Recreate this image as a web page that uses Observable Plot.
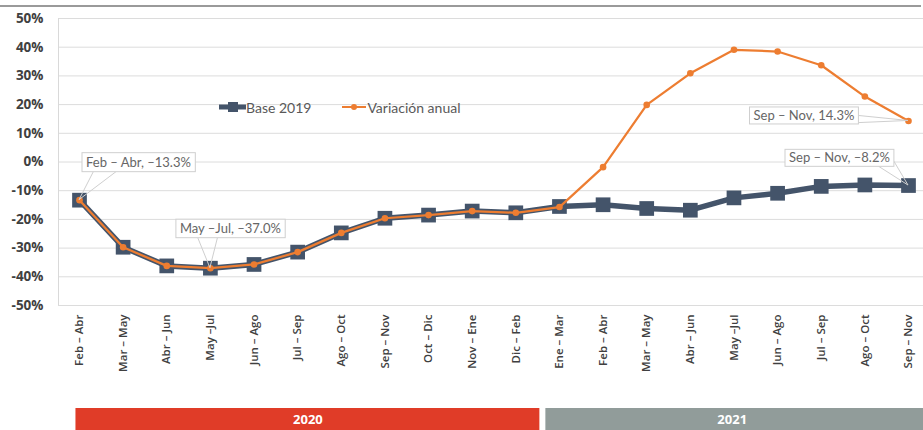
<!DOCTYPE html>
<html><head><meta charset="utf-8">
<script src="https://cdn.jsdelivr.net/npm/d3@7"></script>
<script src="https://cdn.jsdelivr.net/npm/@observablehq/plot@0.6"></script>
<style>
body{margin:0;background:#fff}
#wrap{position:relative;width:923px;height:430px;overflow:hidden;font-family:"Open Sans",sans-serif;background:#fff}
#topline{position:absolute;left:0;top:5px;width:921px;height:2px;background:#9a9a9a}
#main{position:absolute;left:0;top:0}
#years{position:absolute;left:0;top:408px}
#legend{position:absolute;left:219px;top:97px;height:20px;display:flex;align-items:center;font-family:Lato,sans-serif;font-size:14px;color:#595959;white-space:nowrap}
#legend .item{display:inline-flex;align-items:center}
#legend svg{display:block}
</style></head>
<body>
<div id="wrap"><div id="main"></div><div id="topline"></div><div id="legend"></div><div id="years"></div></div>
<script>
// ---- data ----
const periods = ["Feb – Abr","Mar – May","Abr – Jun","May –Jul","Jun – Ago","Jul – Sep","Ago – Oct","Sep – Nov","Oct – Dic","Nov – Ene","Dic – Feb",
                 "Ene – Mar","Feb – Abr","Mar – May","Abr – Jun","May –Jul","Jun – Ago","Jul – Sep","Ago – Oct","Sep – Nov"];
const base2019 = [-13.3,-29.7,-36.2,-37.0,-35.7,-31.4,-24.7,-19.6,-18.5,-17.1,-17.7,
                  -15.5,-14.9,-16.2,-16.8,-12.5,-10.9,-8.5,-8.0,-8.2];
const variacionAnual = [-13.3,-29.7,-36.2,-37.0,-35.7,-31.4,-24.7,-19.6,-18.5,-17.1,-17.7,
                        -15.7,-1.8,19.9,30.9,39.1,38.5,33.7,22.8,14.3];
const yTicks = [-50,-40,-30,-20,-10,0,10,20,30,40,50];
const seriesNames = ["Base 2019","Variación anual"];
const seriesColors = ["#44546A","#ED7D31"];
const yearLabels = ["2020","2021"];
const yearFirst = [0, 11];
const yearLast = [10, 19];
const yearColors = ["#E03C28","#919C9A"];
// annotated points: series, index
const annSeries = ["base","base","yoy","base"];
const annIndex = [0, 3, 19, 19];

// ---- layout / style for annotations (offsets in px from the point) ----
const annStyle = [
  {dx:3, dy:-47, h:19, w1:[0.1,1], w2:[0.3,1]},
  {dx:-34, dy:-48.5, h:18.5, w1:[0.2,1], w2:[0.38,1]},
  {dx:-158.5, dy:-13.5, h:17, w1:[1,0.5], w2:[1,0.92]},
  {dx:-123, dy:-35.7, h:17, w1:[0.86,1], w2:[1,0.7]}
];

const data = periods.map((p, i) => ({i, period: p, base: base2019[i], yoy: variacionAnual[i]}));
const xScale = {type: "linear", domain: [0, periods.length - 1], range: [79, 908]};
const fmtVal = v => (v < 0 ? "–" + Math.abs(v).toFixed(1) : v.toFixed(1)) + "%";

function leftBorder(index, scales, values, dims) {
  const g = d3.create("svg:g");
  g.append("line").attr("x1", dims.marginLeft + 0.5).attr("x2", dims.marginLeft + 0.5)
    .attr("y1", dims.marginTop).attr("y2", dims.height - dims.marginBottom)
    .attr("stroke", "#d9d9d9");
  return g.node();
}

function annotationMark(index, scales) {
  const g = d3.create("svg:g").attr("font-family", "Lato, sans-serif").attr("font-size", 13)
    .attr("text-anchor", "start");
  const ctx = document.createElement("canvas").getContext("2d");
  ctx.font = "13px Lato";
  annIndex.forEach((idx, k) => {
    const s = annStyle[k];
    const v = annSeries[k] === "base" ? base2019[idx] : variacionAnual[idx];
    const px = scales.x(idx), py = scales.y(v);
    const label = `${periods[idx]}, ${fmtVal(v)}`;
    const w = ctx.measureText(label).width + 8, h = s.h;
    const bx = px + s.dx, by = py + s.dy;
    g.append("path")
      .attr("d", `M${bx + s.w1[0]*w},${by + s.w1[1]*h}L${px},${py}L${bx + s.w2[0]*w},${by + s.w2[1]*h}`)
      .attr("fill", "none").attr("stroke", "#cfcfcf").attr("stroke-width", 1);
    g.append("rect").attr("x", bx).attr("y", by).attr("width", w).attr("height", h)
      .attr("fill", "white").attr("stroke", "#cfcfcf");
    g.append("text").attr("x", bx + 4).attr("y", by + h/2).attr("dy", "0.35em")
      .attr("text-anchor", "start").attr("fill", "#666").text(label);
  });
  return g.node();
}

const chart = Plot.plot({
  width: 923, height: 400,
  marginTop: 18, marginBottom: 95, marginLeft: 58, marginRight: 0,
  style: {fontFamily: "Open Sans", background: "transparent", color: "#404040"},
  x: xScale,
  y: {domain: [-50, 50]},
  marks: [
    Plot.gridY(yTicks, {stroke: "#dcdcdc", strokeOpacity: 1}),
    leftBorder,
    Plot.axisY(yTicks, {tickSize: 0, tickPadding: 15, tickFormat: d => d + "%", fontSize: 13.5, fontWeight: "bold", label: null}),
    Plot.axisX(data.map(d => d.i), {tickSize: 0, tickPadding: 9, tickRotate: -90, tickFormat: i => periods[i], fontSize: 11.5, fontWeight: 600, label: null}),
    Plot.line(data, {x: "i", y: "base", stroke: seriesColors[0], strokeWidth: 5.5}),
    Plot.dot(data, {x: "i", y: "base", symbol: "square", r: 8.3, fill: seriesColors[0]}),
    Plot.line(data, {x: "i", y: "yoy", stroke: seriesColors[1], strokeWidth: 2.25}),
    Plot.dot(data, {x: "i", y: "yoy", r: 3.3, fill: seriesColors[1]}),
    annotationMark
  ]
});
document.getElementById("main").append(chart);

// legend
const legend = d3.select("#legend");
seriesNames.forEach((name, k) => {
  const item = legend.append("span").attr("class", "item").style("margin-left", k ? "31px" : "0px");
  const sv = item.append("svg").attr("width", k ? 25 : 27).attr("height", 14);
  if (k === 0) {
    sv.append("line").attr("x1", 0).attr("x2", 27).attr("y1", 7).attr("y2", 7).attr("stroke", seriesColors[k]).attr("stroke-width", 5);
    sv.append("rect").attr("x", 9).attr("y", 2).attr("width", 10).attr("height", 10).attr("fill", seriesColors[k]);
  } else {
    sv.append("line").attr("x1", 0).attr("x2", 24).attr("y1", 7).attr("y2", 7).attr("stroke", seriesColors[k]).attr("stroke-width", 2);
    sv.append("circle").attr("cx", 12).attr("cy", 7).attr("r", 3).attr("fill", seriesColors[k]);
  }
  item.append("span").text(name);
});

// year bands: each band spans from the previous band's end to its last period
const years = yearLabels.map((y, k) => ({
  year: y,
  x1: k === 0 ? yearFirst[k] - 0.15 : yearLast[k - 1] + 0.62,
  x2: yearLast[k] + 0.62,
  color: yearColors[k]
}));
const yearChart = Plot.plot({
  width: 923, height: 22, margin: 0,
  style: {fontFamily: "Open Sans", background: "transparent"},
  x: {...xScale, axis: null},
  color: {type: "identity"},
  marks: [
    Plot.barX(years, {x1: "x1", x2: "x2", fill: "color", insetLeft: 3, insetRight: 3}),
    Plot.text(years, {x: d => (d.x1 + Math.min(d.x2, 19.3)) / 2, text: "year", fill: "white", fontWeight: "bold", fontSize: 13})
  ]
});
document.getElementById("years").append(yearChart);
</script>
</body></html>
